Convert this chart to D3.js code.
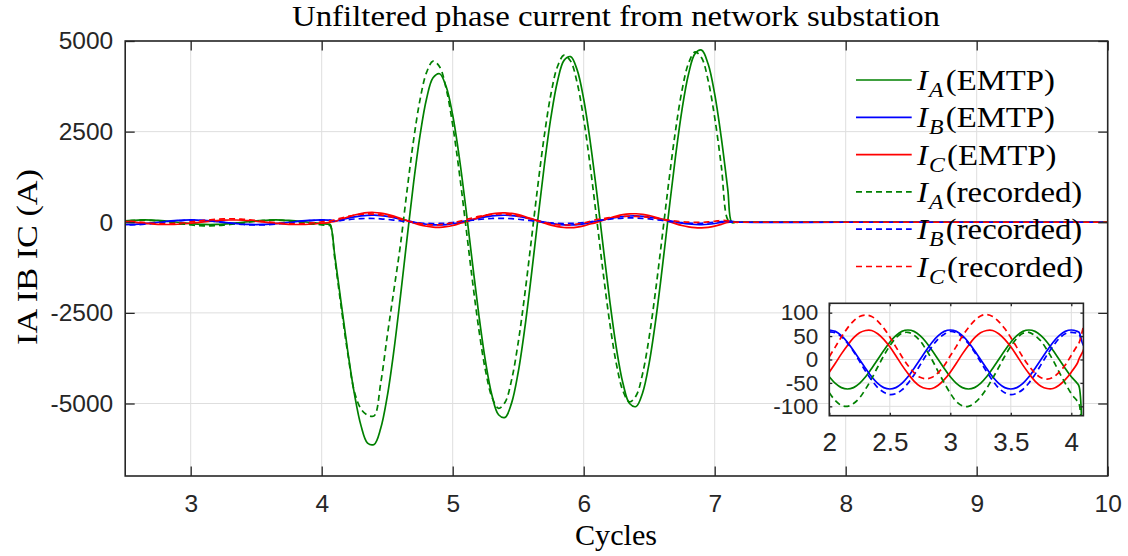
<!DOCTYPE html>
<html>
<head>
<meta charset="utf-8">
<script src="https://cdn.jsdelivr.net/npm/d3@7"></script>
<style>
  html, body { margin: 0; padding: 0; background: #fff; }
  svg { display: block; }
</style>
</head>
<body>
<svg id="chart" width="1128" height="556"></svg>
<script>
// Sample instants, in power-frequency cycles
const times = [
  2.00, 2.05, 2.10, 2.15, 2.20, 2.25, 2.30, 2.35, 2.40, 2.45, 2.50, 2.55, 2.60, 2.65, 2.70, 2.75, 2.80, 2.85, 2.90, 2.95,
  3.00, 3.05, 3.10, 3.15, 3.20, 3.25, 3.30, 3.35, 3.40, 3.45, 3.50, 3.55, 3.60, 3.65, 3.70, 3.75, 3.80, 3.85, 3.90, 3.95,
  4.00, 4.05, 4.065,
  4.10, 4.15, 4.20, 4.25, 4.30, 4.35, 4.40, 4.45, 4.50, 4.55, 4.60, 4.65, 4.70, 4.75, 4.80, 4.85, 4.90, 4.95, 5.00, 5.05,
  5.10, 5.15, 5.20, 5.25, 5.30, 5.35, 5.40, 5.45, 5.50, 5.55, 5.60, 5.65, 5.70, 5.75, 5.80, 5.85, 5.90, 5.95, 6.00, 6.05,
  6.10, 6.15, 6.20, 6.25, 6.30, 6.35, 6.40, 6.45, 6.50, 6.55, 6.60, 6.65, 6.70, 6.75, 6.80, 6.85, 6.90, 6.95, 7.00, 7.05,
  7.10, 7.13, 7.16, 7.20, 8.00, 9.00, 10.00
];

// Phase currents from the EMTP model (A)
const iaEmtp = [
  -37, -51, -60, -63, -60, -51, -37, -19, 0, 19, 37, 51, 60, 63, 60, 51, 37, 19, 0, -19,
  -37, -51, -60, -63, -60, -51, -37, -19, 0, 19, 37, 51, 60, 63, 60, 51, 37, 19, 0, -19,
  -37, -51, -58,
  -920, -2266, -3586, -4743, -5610, -6091, -6128, -5693, -4813, -3570, -2080, -494, 1046, 2383, 3400, 3986, 4098, 3743, 2953, 1800,
  400, -1106, -2566, -3833, -4780, -5311, -5383, -4983, -4138, -2930, -1480, 76, 1586, 2898, 3890, 4466, 4568, 4203, 3393, 2220,
  810, -716, -2196, -3483, -4450, -5001, -5083, -4703, -3878, -2690, -1252, 291, 1791, 3095, 4082, 4652, 4748, 4363, 3533, 2340,
  900, 0, 0, 0, 0, 0, 0
];
const ibEmtp = [
  63, 60, 51, 37, 19, 0, -19, -37, -51, -60, -63, -60, -51, -37, -19, 0, 19, 37, 51, 60,
  63, 60, 51, 37, 19, 0, -19, -37, -51, -60, -63, -60, -51, -37, -19, 0, 19, 37, 51, 60,
  63, 60, 58,
  31, 73, 114, 149, 176, 192, 194, 184, 161, 129, 89, 47, 6, -29, -56, -72, -74, -64, -41, -9,
  31, 72, 112, 147, 174, 190, 193, 183, 160, 128, 88, 46, 5, -31, -58, -74, -76, -66, -43, -10,
  29, 66, 103, 134, 158, 172, 174, 165, 145, 116, 81, 44, 7, -24, -48, -62, -64, -55, -35, -6,
  29, 25, 8, 0, 0, 0, 0
];
const icEmtp = [
  -27, -8, 12, 30, 46, 57, 62, 62, 55, 43, 27, 8, -12, -30, -46, -57, -62, -62, -55, -43,
  -27, -8, 12, 30, 46, 57, 62, 62, 55, 43, 27, 8, -12, -30, -46, -57, -62, -62, -55, -43,
  -27, -8, 2,
  20, 84, 146, 201, 241, 265, 269, 253, 219, 169, 110, 46, -16, -71, -111, -135, -139, -123, -89, -39,
  10, 74, 136, 191, 231, 255, 259, 243, 209, 159, 100, 36, -26, -81, -121, -145, -149, -133, -99, -49,
  -3, 58, 117, 169, 208, 230, 234, 219, 186, 139, 83, 22, -37, -89, -128, -150, -154, -139, -106, -59,
  -3, 0, 0, 0, 0, 0, 0
];

// Phase currents recorded at the substation (A)
const iaRec = [
  -71, -88, -98, -100, -94, -82, -63, -41, -16, 8, 29, 46, 56, 58, 52, 40, 21, -1, -26, -50,
  -72, -90, -99, -100, -93, -80, -62, -40, -17, 7, 28, 45, 56, 58, 51, 39, 20, -2, -27, -51,
  -73, -89, -95,
  -1005, -2373, -3646, -4680, -5150, -5320, -5340, -4450, -3150, -1900, -650, 833, 2231, 3368, 4129, 4444, 4291, 3687, 2683, 1379,
  -95, -1593, -2966, -4085, -4829, -5134, -4966, -4342, -3318, -1997, -503, 1013, 2406, 3538, 4296, 4610, 4446, 3847, 2843, 1539,
  65, -1433, -2806, -3920, -4659, -4954, -4786, -4172, -3163, -1854, -375, 1128, 2506, 3630, 4384, 4699, 4536, 3912, 2888, 1564,
  70, 0, 0, 0, 0, 0, 0
];
const ibRec = [
  59, 57, 49, 35, 17, -4, -25, -44, -60, -70, -75, -73, -65, -51, -33, -12, 9, 28, 44, 54,
  60, 57, 48, 34, 16, -5, -26, -45, -61, -71, -75, -72, -64, -50, -32, -11, 10, 29, 45, 55,
  58, 56, 54,
  31, 53, 73, 89, 100, 105, 103, 94, 79, 60, 39, 17, -3, -20, -30, -35, -33, -24, -9, 10,
  33, 55, 76, 92, 104, 109, 107, 98, 83, 63, 41, 19, -1, -19, -29, -34, -32, -23, -8, 12,
  41, 65, 86, 103, 115, 120, 117, 108, 92, 72, 49, 25, 4, -13, -25, -30, -27, -18, -2, 18,
  20, 5, 0, 0, 0, 0, 0
];
const icRec = [
  6, 27, 48, 67, 82, 92, 95, 92, 82, 67, 48, 27, 6, -13, -28, -38, -41, -38, -28, -13,
  8, 28, 50, 68, 83, 93, 96, 92, 81, 66, 47, 26, 5, -14, -29, -39, -42, -38, -27, -12,
  9, 30, 36,
  70, 118, 161, 196, 220, 230, 225, 205, 173, 132, 86, 38, -5, -40, -64, -74, -69, -49, -17, 24,
  72, 119, 162, 196, 219, 229, 224, 204, 172, 131, 85, 37, -6, -41, -65, -75, -70, -50, -18, 23,
  76, 102, 126, 146, 159, 165, 162, 151, 133, 110, 84, 58, 34, 14, 1, -5, -2, 9, 27, 50,
  40, 10, 0, 0, 0, 0, 0
];

// Tick values
const mainXTicks = [3, 4, 5, 6, 7, 8, 9, 10];
const mainYTicks = [-5000, -2500, 0, 2500, 5000];
const insetXTicks = [2, 2.5, 3, 3.5, 4];
const insetYTicks = [-100, -50, 0, 50, 100];

const phaseNames = ["A", "B", "C"];
const sourceNames = ["EMTP", "recorded"];
const phaseColors = ["#008000", "#0000ff", "#ff0000"];

const series = [
  { phase: 0, source: 0, values: iaEmtp },
  { phase: 1, source: 0, values: ibEmtp },
  { phase: 2, source: 0, values: icEmtp },
  { phase: 0, source: 1, values: iaRec },
  { phase: 1, source: 1, values: ibRec },
  { phase: 2, source: 1, values: icRec }
];

const svg = d3.select("#chart");
const AXIS_COLOR = "#262626";
const GRID_COLOR = "#dedede";
const SANS = "'Liberation Sans', Arial, Helvetica, sans-serif";
const SERIF = "'Liberation Serif', 'Times New Roman', serif";
const DASH = "6,4";
const LW = 1.7;

function drawPanel(g, id, x, y, o) {
  const [x0, x1] = x.range();
  const [y0, y1] = y.range(); // y0 bottom, y1 top

  if (o.background) {
    g.append("rect").attr("x", x0).attr("y", y1).attr("width", x1 - x0).attr("height", y0 - y1)
      .attr("fill", "#fff");
  }

  // grid
  const grid = g.append("g").attr("stroke", GRID_COLOR).attr("stroke-width", 1);
  grid.selectAll("line.gx").data(o.xTicks).join("line").attr("class", "gx")
    .attr("x1", d => x(d)).attr("x2", d => x(d)).attr("y1", y0).attr("y2", y1);
  grid.selectAll("line.gy").data(o.yTicks).join("line").attr("class", "gy")
    .attr("x1", x0).attr("x2", x1).attr("y1", d => y(d)).attr("y2", d => y(d));

  // data
  g.append("clipPath").attr("id", id).append("rect")
    .attr("x", x0).attr("y", y1).attr("width", x1 - x0).attr("height", y0 - y1);
  const line = d3.line()
    .x((d, i) => x(times[i]))
    .y(d => y(d))
    .curve(d3.curveCatmullRom.alpha(0.5));
  const plot = g.append("g").attr("clip-path", `url(#${id})`);
  plot.selectAll("path").data(series).join("path")
    .attr("d", s => line(s.values))
    .attr("fill", "none")
    .attr("stroke", s => phaseColors[s.phase])
    .attr("stroke-width", LW)
    .attr("stroke-dasharray", s => s.source === 1 ? DASH : null)
    .attr("stroke-linejoin", "round");

  // axes
  const fmt = d => String(d);
  const styleAxis = (sel, size) => {
    sel.select(".domain").remove();
    sel.selectAll(".tick line").attr("stroke", AXIS_COLOR).attr("stroke-width", 1.3);
    sel.selectAll(".tick text").attr("fill", AXIS_COLOR).style("font-family", SANS).style("font-size", size + "px");
  };
  g.append("g").attr("transform", `translate(0,${y0})`)
    .call(d3.axisBottom(x).tickValues(o.xTicks).tickSize(-o.tick).tickPadding(o.xPad).tickFormat(fmt))
    .call(sel => styleAxis(sel, o.xFont));
  g.append("g").attr("transform", `translate(${x0},0)`)
    .call(d3.axisLeft(y).tickValues(o.yTicks).tickSize(-o.tick).tickPadding(o.yPad).tickFormat(fmt))
    .call(sel => styleAxis(sel, o.yFont));
  g.append("g").attr("transform", `translate(0,${y1})`)
    .call(d3.axisTop(x).tickValues(o.xTicks).tickSize(-o.tick).tickFormat(""))
    .call(sel => styleAxis(sel, o.xFont));
  g.append("g").attr("transform", `translate(${x1},0)`)
    .call(d3.axisRight(y).tickValues(o.yTicks).tickSize(-o.tick).tickFormat(""))
    .call(sel => styleAxis(sel, o.yFont));

  g.append("rect").attr("x", x0).attr("y", y1).attr("width", x1 - x0).attr("height", y0 - y1)
    .attr("fill", "none").attr("stroke", AXIS_COLOR).attr("stroke-width", 1.6);
}

// Main axes
const mainX = d3.scaleLinear().domain([2.5, 10]).range([125.2, 1107.7]);
const mainY = d3.scaleLinear().domain([-7000, 5000]).range([476, 41]);
const mainG = svg.append("g");
drawPanel(mainG, "clip-main", mainX, mainY, {
  xTicks: mainXTicks, yTicks: mainYTicks, tick: 9.5,
  xPad: 18.5, yPad: 12, xFont: 24.5, yFont: 24.5, background: false
});

// Title and axis labels
svg.append("text")
  .attr("x", 292).attr("y", 26)
  .attr("textLength", 648).attr("lengthAdjust", "spacingAndGlyphs")
  .style("font-family", SERIF).style("font-size", "29px").attr("fill", "#000")
  .text("Unfiltered phase current from network substation");
svg.append("text")
  .attr("transform", "translate(37,345) rotate(-90)")
  .attr("textLength", 176).attr("lengthAdjust", "spacingAndGlyphs")
  .style("font-family", SERIF).style("font-size", "29px").attr("fill", "#000")
  .text("IA IB IC (A)");
svg.append("text")
  .attr("x", 575).attr("y", 545)
  .attr("textLength", 82).attr("lengthAdjust", "spacingAndGlyphs")
  .style("font-family", SERIF).style("font-size", "29px").attr("fill", "#000")
  .text("Cycles");

// Legend (no frame, no background)
const legend = svg.append("g");
const legRows = legend.selectAll("g").data(series).join("g")
  .attr("transform", (s, i) => `translate(0,${80 + 37.3 * i})`);
legRows.append("line")
  .attr("x1", 856).attr("x2", 911.7).attr("y1", 0).attr("y2", 0)
  .attr("stroke", s => phaseColors[s.phase])
  .attr("stroke-width", LW)
  .attr("stroke-dasharray", s => s.source === 1 ? DASH : null);
const legText = legRows.append("text")
  .attr("transform", "translate(917,10) scale(1.13,1)")
  .style("font-family", SERIF).style("font-size", "29px").attr("fill", "#000");
legText.append("tspan").style("font-style", "italic").text("I");
legText.append("tspan").style("font-style", "italic").style("font-size", "21px")
  .attr("dx", 1).attr("dy", 7).text(s => phaseNames[s.phase]);
legText.append("tspan").attr("dx", 2).attr("dy", -7).text(s => `(${sourceNames[s.source]})`);

// Inset: pre-fault detail
const insetX = d3.scaleLinear().domain([2, 4.1]).range([829.3, 1083.4]);
const insetY = d3.scaleLinear().domain([-120, 120]).range([415.7, 303.3]);
const insetG = svg.append("g");
drawPanel(insetG, "clip-inset", insetX, insetY, {
  xTicks: insetXTicks, yTicks: insetYTicks, tick: 3,
  xPad: 17, yPad: 11, xFont: 26, yFont: 22.5, background: true
});
</script>
</body>
</html>
